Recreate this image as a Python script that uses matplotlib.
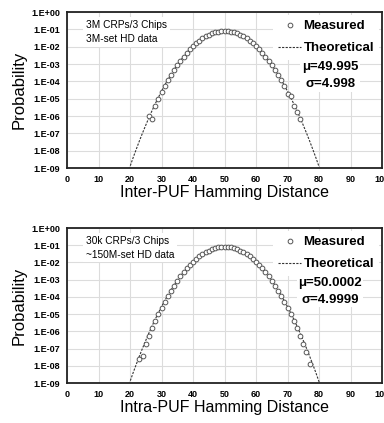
import matplotlib
matplotlib.use("Agg")
import matplotlib.pyplot as plt
import numpy as np

plt.rcParams['font.family'] = ['Liberation Sans', 'DejaVu Sans']

# ---- data ----
xticks = [0, 10, 20, 30, 40, 50, 60, 70, 80, 90, 100]
xtick_labels = ['0', '10', '20', '30', '40', '50', '60', '70', '80', '90', '100']
ytick_labels = ['1.E+00', '1.E-01', '1.E-02', '1.E-03', '1.E-04', '1.E-05',
                '1.E-06', '1.E-07', '1.E-08', '1.E-09']

# theoretical curve (log10 probability) at x = 19..81
theo_x = list(range(19, 82))
theo_log = [-9.45, -8.92, -8.40, -7.91, -7.43, -6.97, -6.53, -6.10, -5.69, -5.30,
            -4.93, -4.57, -4.23, -3.91, -3.61, -3.32, -3.05, -2.80, -2.57, -2.35,
            -2.15, -1.97, -1.80, -1.65, -1.52, -1.41, -1.32, -1.24, -1.18, -1.13,
            -1.11, -1.10, -1.11, -1.13, -1.18, -1.24, -1.32, -1.41, -1.52, -1.65,
            -1.80, -1.97, -2.15, -2.35, -2.57, -2.80, -3.05, -3.32, -3.61, -3.91,
            -4.23, -4.57, -4.93, -5.30, -5.69, -6.10, -6.53, -6.97, -7.43, -7.91,
            -8.40, -8.92, -9.45]

# Inter-PUF measured (x = 26..74)
inter_x = list(range(26, 75))
inter_log = [-6.00, -6.15, -5.45, -5.02, -4.64, -4.28, -3.95, -3.63, -3.34, -3.06,
             -2.81, -2.57, -2.35, -2.15, -1.97, -1.80, -1.65, -1.52, -1.41, -1.32,
             -1.24, -1.18, -1.13, -1.11, -1.10, -1.11, -1.13, -1.18, -1.24, -1.32,
             -1.41, -1.52, -1.65, -1.80, -1.97, -2.15, -2.35, -2.57, -2.81, -3.06,
             -3.34, -3.64, -3.95, -4.28, -4.72, -4.85, -5.42, -5.78, -6.19]

# Intra-PUF measured (x = 23..77)
intra_x = list(range(23, 78))
intra_log = [-7.60, -7.45, -6.72, -6.26, -5.82, -5.40, -5.01, -4.64, -4.28, -3.95,
             -3.63, -3.34, -3.06, -2.81, -2.57, -2.35, -2.15, -1.97, -1.80, -1.65,
             -1.52, -1.41, -1.32, -1.24, -1.18, -1.13, -1.11, -1.10, -1.11, -1.13,
             -1.18, -1.24, -1.32, -1.41, -1.52, -1.65, -1.80, -1.97, -2.15, -2.35,
             -2.57, -2.81, -3.06, -3.34, -3.63, -3.95, -4.28, -4.64, -5.01, -5.40,
             -5.82, -6.26, -6.72, -7.20, -7.90]

panels = [
    dict(mx=inter_x, my=inter_log, xlabel='Inter-PUF Hamming Distance',
         note='3M CRPs/3 Chips\n3M-set HD data', mu='μ=49.995', sigma='σ=4.998'),
    dict(mx=intra_x, my=intra_log, xlabel='Intra-PUF Hamming Distance',
         note='30k CRPs/3 Chips\n~150M-set HD data', mu='μ=50.0002', sigma='σ=4.9999'),
]

fig = plt.figure(figsize=(3.84, 4.23), dpi=100)
rects = [[67/384, 1-168/423, 315/384, 156/423],
         [67/384, 1-383/423, 315/384, 155/423]]

for rect, p in zip(rects, panels):
    ax = fig.add_axes(rect)
    ax.set_yscale('log')
    ax.set_xlim(0, 100)
    ax.set_ylim(1e-9, 1)
    ax.plot(theo_x, 10**np.array(theo_log), color='#333333', lw=0.8,
            ls=(0, (2, 1.2)), label='Theoretical', zorder=3)
    ax.plot(p['mx'], 10**np.array(p['my']), ls='none', marker='o', ms=3.4,
            mfc='white', mec='#555555', mew=0.7, label='Measured', zorder=4)
    ax.set_xticks(xticks)
    ax.set_xticklabels(xtick_labels, fontsize=6.5, fontweight='bold')
    yt = [10.0**(-i) for i in range(10)]
    ax.set_yticks(yt)
    ax.set_yticklabels(ytick_labels, fontsize=6.5, fontweight='bold')
    ax.minorticks_off()
    ax.tick_params(length=0, pad=5)
    ax.grid(True, color='#dcdcdc', lw=0.8)
    ax.set_axisbelow(True)
    for s in ax.spines.values():
        s.set_color('#222222')
        s.set_linewidth(1.3)
    ax.set_ylabel('Probability', fontsize=12, labelpad=3)
    ax.set_xlabel(p['xlabel'], fontsize=11.5, labelpad=1)
    ax.text(0.06, 0.95, p['note'], transform=ax.transAxes, fontsize=7.3,
            va='top', ha='left', linespacing=1.5, zorder=5,
            bbox=dict(facecolor='white', edgecolor='none', pad=2))
    h, l = ax.get_legend_handles_labels()
    leg = ax.legend(h[::-1], l[::-1], loc='upper right', bbox_to_anchor=(1.0, 1.0),
                    frameon=True, handlelength=1.7, handletextpad=0.2,
                    borderpad=0.4, labelspacing=0.75, borderaxespad=0.2,
                    prop=dict(weight='bold', size=9.5))
    leg.get_frame().set_edgecolor('none')
    leg.get_frame().set_facecolor('white')
    leg.get_frame().set_alpha(1)
    ax.text(0.835, 0.685, p['mu'] + '\n' + p['sigma'], transform=ax.transAxes,
            fontsize=9.5, fontweight='bold', ha='center', va='top', linespacing=1.55,
            zorder=5, bbox=dict(facecolor='white', edgecolor='none', pad=1))

fig.savefig('out.png', dpi=100)
